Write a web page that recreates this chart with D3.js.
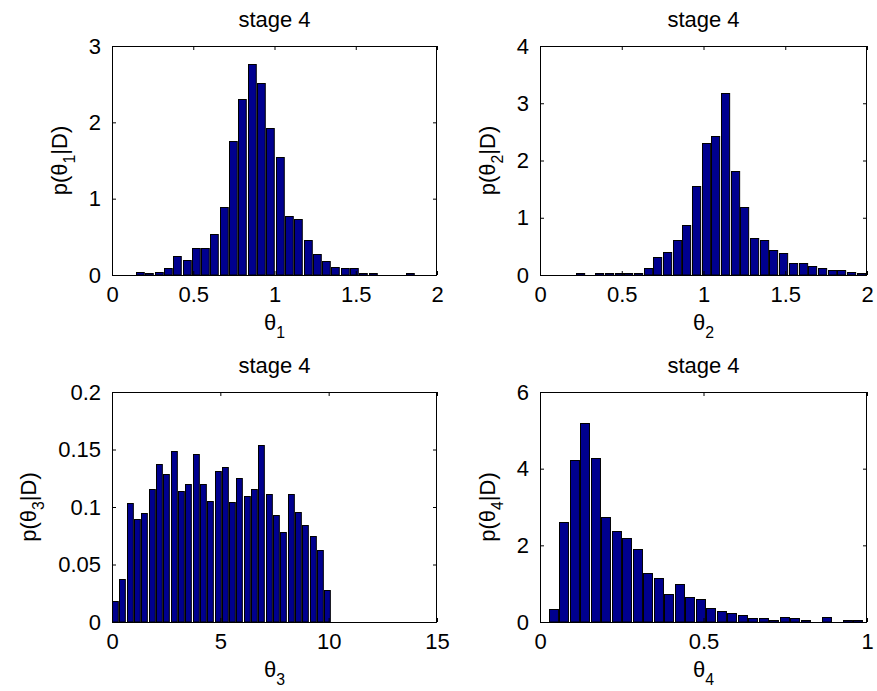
<!DOCTYPE html>
<html>
<head>
<meta charset="utf-8">
<script src="https://cdn.jsdelivr.net/npm/d3@7"></script>
<style>
  body { margin: 0; background: #fff; }
  svg { display: block; font-family: "Liberation Sans", Arial, Helvetica, sans-serif; }
</style>
</head>
<body>
<svg id="chart" width="877" height="691"></svg>
<script>
// Bin centres and densities

const theta1Centers = [0.176, 0.233, 0.291, 0.348, 0.405, 0.463, 0.520, 0.577, 0.634, 0.692,
    0.749, 0.806, 0.864, 0.921, 0.978, 1.035, 1.093, 1.150, 1.207, 1.265,
    1.322, 1.379, 1.436, 1.494, 1.551, 1.608, 1.666, 1.723, 1.780, 1.838];
const theta1Density = [0.044, 0.02, 0.044, 0.09, 0.25, 0.20, 0.36, 0.36, 0.54, 0.89,
    1.75, 2.30, 2.77, 2.52, 1.93, 1.55, 0.775, 0.73, 0.46, 0.27,
    0.18, 0.11, 0.09, 0.09, 0.02, 0.02, 0, 0, 0, 0.02];

const theta2Centers = [0.249, 0.308, 0.367, 0.427, 0.486, 0.545, 0.604, 0.663, 0.723, 0.782,
    0.841, 0.900, 0.959, 1.019, 1.078, 1.137, 1.196, 1.255, 1.315, 1.374,
    1.433, 1.492, 1.551, 1.611, 1.670, 1.729, 1.788, 1.847, 1.907, 1.966];
const theta2Density = [0.035, 0, 0.035, 0.035, 0.035, 0.035, 0.035, 0.13, 0.31, 0.40,
    0.62, 0.88, 1.55, 2.31, 2.43, 3.18, 1.82, 1.18, 0.64, 0.61,
    0.43, 0.39, 0.21, 0.21, 0.16, 0.13, 0.09, 0.09, 0.06, 0.03];

const theta3Centers = [0.169, 0.507, 0.845, 1.183, 1.521, 1.859, 2.197, 2.535, 2.873, 3.211,
    3.549, 3.887, 4.225, 4.563, 4.901, 5.239, 5.577, 5.915, 6.253, 6.591,
    6.929, 7.267, 7.605, 7.943, 8.281, 8.619, 8.957, 9.295, 9.633, 9.971];
const theta3Density = [0.018, 0.037, 0.1035, 0.0898, 0.0945, 0.1157, 0.137, 0.129, 0.149, 0.114,
    0.120, 0.146, 0.120, 0.105, 0.131, 0.135, 0.104, 0.125, 0.110, 0.116,
    0.1535, 0.111, 0.093, 0.078, 0.111, 0.096, 0.084, 0.075, 0.063, 0.028];

const theta4Centers = [0.043, 0.075, 0.107, 0.139, 0.171, 0.204, 0.236, 0.268, 0.300, 0.332,
    0.364, 0.396, 0.428, 0.460, 0.492, 0.525, 0.557, 0.589, 0.621, 0.653,
    0.685, 0.717, 0.749, 0.781, 0.813, 0.846, 0.878, 0.910, 0.942, 0.974];
const theta4Density = [0.34, 2.60, 4.23, 5.19, 4.28, 2.73, 2.37, 2.18, 1.91, 1.28,
    1.14, 0.73, 1.00, 0.645, 0.60, 0.375, 0.28, 0.235, 0.19, 0.096,
    0.096, 0.05, 0.14, 0.096, 0.05, 0, 0.14, 0, 0.05, 0.05];

// tick values and labels
const xTicks1 = [0, 0.5, 1, 1.5, 2];
const xTicks3 = [0, 5, 10, 15];
const xTicks4 = [0, 0.5, 1];
const yTicks1 = [0, 1, 2, 3];
const yTicks2 = [0, 1, 2, 3, 4];
const yTicks3 = [0, 0.05, 0.1, 0.15, 0.2];
const yTicks4 = [0, 2, 4, 6];

const titleText = "stage 4";
const subscripts = ["1", "2", "3", "4"];

const svg = d3.select("#chart");
const FONT = 22;
const barFill = "#00008f";

const panels = [
    { centers: theta1Centers, vals: theta1Density, xt: xTicks1, yt: yTicks1, sub: subscripts[0], left: 112, top: 46, w: 325, h: 229 },
    { centers: theta2Centers, vals: theta2Density, xt: xTicks1, yt: yTicks2, sub: subscripts[1], left: 540, top: 46, w: 327, h: 229 },
    { centers: theta3Centers, vals: theta3Density, xt: xTicks3, yt: yTicks3, sub: subscripts[2], left: 112, top: 392, w: 325, h: 230 },
    { centers: theta4Centers, vals: theta4Density, xt: xTicks4, yt: yTicks4, sub: subscripts[3], left: 540, top: 392, w: 327, h: 230 }
];

panels.forEach((p, i) => {
    const g = svg.append("g").attr("transform", `translate(${p.left},${p.top})`);

    const x = d3.scaleLinear().domain(d3.extent(p.xt)).range([0, p.w]);
    const y = d3.scaleLinear().domain(d3.extent(p.yt)).range([p.h, 0]);
    const binW = p.centers[1] - p.centers[0];

    // clip bars to the axes box
    g.append("clipPath").attr("id", "clip" + i)
        .append("rect").attr("width", p.w).attr("height", p.h);

    const bins = p.centers.map((c, k) => ({ c: c, v: p.vals[k] }));

    g.append("g").attr("clip-path", `url(#clip${i})`)
        .selectAll("rect")
        .data(bins)
        .join("rect")
        .attr("x", d => Math.round(x(d.c - binW / 2)) + 0.5)
        .attr("width", d => Math.max(0, x(d.c + binW / 2) - x(d.c - binW / 2) - 1.5))
        .attr("y", d => Math.round(y(d.v)) + 0.5)
        .attr("height", d => Math.max(0, y(0) - Math.round(y(d.v)) - 0.5))
        .attr("fill", barFill)
        .attr("stroke", "#000")
        .attr("stroke-width", 1);

    // axes with inward ticks on all four sides
    const tickLen = 4;
    const bottom = g.append("g").attr("transform", `translate(0,${p.h})`)
        .call(d3.axisBottom(x).tickValues(p.xt).tickSizeInner(-tickLen).tickSizeOuter(0).tickPadding(14).tickFormat(d3.format("~g")));
    const topAx = g.append("g")
        .call(d3.axisTop(x).tickValues(p.xt).tickSizeInner(-tickLen).tickSizeOuter(0).tickFormat(""));
    const leftAx = g.append("g")
        .call(d3.axisLeft(y).tickValues(p.yt).tickSizeInner(-tickLen).tickSizeOuter(0).tickPadding(11).tickFormat(d3.format("~g")));
    const rightAx = g.append("g").attr("transform", `translate(${p.w},0)`)
        .call(d3.axisRight(y).tickValues(p.yt).tickSizeInner(-tickLen).tickSizeOuter(0).tickFormat(""));

    [bottom, topAx, leftAx, rightAx].forEach(a => {
        a.select(".domain").remove();
        a.selectAll("line").attr("stroke", "#000");
        a.selectAll("text").attr("fill", "#000").attr("font-size", FONT).attr("font-family", null);
    });
    bottom.selectAll("text").attr("dy", "0.71em").attr("y", 11);

    g.append("rect")
        .attr("x", 0.5).attr("y", 0.5)
        .attr("width", p.w - 1).attr("height", p.h)
        .attr("fill", "none").attr("stroke", "#000").attr("stroke-width", 1);

    // title
    g.append("text")
        .attr("x", p.w / 2).attr("y", -19)
        .attr("text-anchor", "middle").attr("font-size", FONT)
        .text(titleText);

    // x label θ with subscript
    const xl = g.append("text")
        .attr("x", p.w / 2).attr("y", p.h + 55)
        .attr("text-anchor", "middle").attr("font-size", FONT);
    xl.append("tspan").text("θ");
    xl.append("tspan").attr("font-size", FONT * 0.72).attr("dy", 8).text(p.sub);

    // y label p(θ_i|D), placed left of the widest tick label
    const maxW = d3.max(leftAx.selectAll("text").nodes(), n => n.getComputedTextLength());
    const lx = -7 - maxW - 26;
    const yl = g.append("text")
        .attr("transform", `translate(${lx},${p.h / 2}) rotate(-90)`)
        .attr("text-anchor", "middle").attr("font-size", FONT);
    yl.append("tspan").text("p(θ");
    yl.append("tspan").attr("font-size", FONT * 0.72).attr("dy", 8).text(p.sub);
    yl.append("tspan").attr("dy", -8).text("|D)");
});
</script>
</body>
</html>
